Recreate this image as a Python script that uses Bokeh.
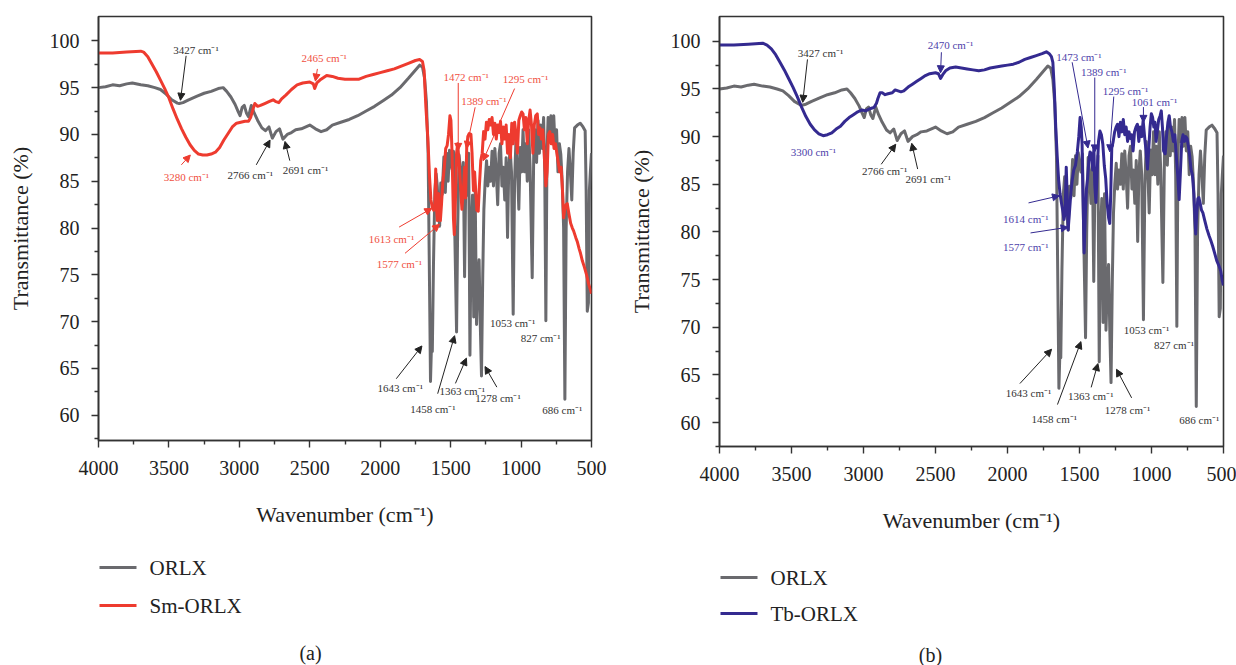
from bokeh.plotting import figure
from bokeh.models import Arrow, NormalHead, Label, Range1d, FixedTicker, ColumnDataSource
from bokeh.layouts import row, column
from bokeh.embed import file_html
from bokeh.resources import INLINE
from bokeh.core.properties import value

FONT = "Liberation Serif"
GRAY = "#6a6a6e"
RED = "#ee3b2f"
BLUE = "#342a90"
RED_TXT = "#f0503f"
BLUE_TXT = "#4d42aa"
BLK_TXT = "#333333"

# ---------------- data (wavenumber cm-1, transmittance %) ----------------
ORLX = [
    (4000, 95.0), (3950, 95.1), (3900, 95.3), (3850, 95.2), (3800, 95.4), (3760, 95.5), (3700, 95.3),
    (3650, 95.2), (3600, 95.0), (3560, 94.8), (3520, 94.3), (3480, 93.7), (3440, 93.35), (3427, 93.3),
    (3400, 93.4), (3360, 93.7), (3300, 94.1), (3250, 94.4), (3200, 94.6), (3150, 94.9), (3115, 95.0),
    (3090, 94.6), (3060, 94.0), (3030, 93.2), (3010, 92.5), (2995, 92.0), (2980, 92.9), (2965, 93.1),
    (2950, 92.3), (2935, 91.9), (2915, 93.1), (2895, 92.3), (2870, 91.5), (2840, 90.7), (2815, 90.4),
    (2790, 90.8), (2766, 89.6), (2740, 90.3), (2715, 90.6), (2691, 89.5), (2660, 90.0), (2630, 90.2),
    (2600, 90.5), (2560, 90.6), (2500, 91.0), (2460, 90.6), (2420, 90.3), (2380, 90.5), (2340, 91.0),
    (2280, 91.3), (2220, 91.6), (2160, 92.0), (2100, 92.5), (2040, 93.0), (1980, 93.6), (1920, 94.2),
    (1860, 95.0), (1800, 96.0), (1760, 96.7), (1720, 97.4), (1700, 97.2), (1685, 96.0), (1672, 93.5),
    (1660, 88.0), (1650, 74.0), (1643, 63.6), (1636, 67.5), (1630, 66.8), (1622, 76.0), (1612, 84.0),
    (1603, 85.8), (1595, 84.5), (1586, 81.5), (1578, 80.2), (1570, 84.8), (1560, 83.6), (1548, 87.6),
    (1538, 83.8), (1528, 88.0), (1518, 85.0), (1508, 88.3), (1500, 87.0), (1490, 86.3), (1480, 88.2),
    (1470, 79.0), (1458, 68.9), (1450, 80.0), (1440, 87.8), (1432, 86.5), (1420, 83.0), (1410, 87.0),
    (1401, 74.8), (1392, 86.0), (1382, 83.5), (1372, 88.0), (1363, 66.4), (1354, 80.0), (1345, 83.5),
    (1336, 70.5), (1326, 84.0), (1316, 69.7), (1306, 75.0), (1298, 76.6), (1290, 70.0), (1281, 64.2),
    (1272, 75.0), (1264, 82.0), (1255, 85.0), (1245, 87.2), (1236, 84.5), (1226, 86.5), (1216, 85.0),
    (1206, 88.2), (1196, 84.5), (1186, 88.5), (1176, 86.0), (1166, 82.5), (1156, 88.0), (1146, 89.0),
    (1136, 84.5), (1126, 86.5), (1116, 83.0), (1106, 87.5), (1096, 79.0), (1088, 86.0), (1078, 88.5),
    (1068, 86.0), (1056, 70.8), (1046, 85.0), (1036, 89.5), (1026, 86.5), (1016, 82.0), (1006, 88.6),
    (996, 86.0), (986, 90.5), (976, 86.0), (966, 89.0), (956, 85.0), (946, 90.5), (936, 86.5),
    (921, 74.7), (910, 88.0), (900, 90.5), (890, 87.0), (880, 91.5), (870, 88.0), (860, 91.0),
    (850, 88.5), (840, 91.8), (832, 86.0), (824, 70.1), (816, 88.0), (808, 91.8), (798, 89.5),
    (788, 92.0), (778, 89.0), (768, 92.0), (758, 88.5), (748, 90.5), (738, 86.0), (728, 89.0),
    (718, 87.9), (708, 85.0), (698, 80.0), (689, 61.7), (680, 80.0), (670, 86.0), (660, 88.5),
    (650, 86.0), (640, 83.0), (630, 88.0), (620, 90.7), (600, 91.0), (580, 91.2), (560, 90.8),
    (545, 90.4), (538, 84.0), (530, 71.1), (522, 72.0), (515, 84.0), (508, 86.0), (500, 88.0),
]

SM_ORLX = [
    (4000, 98.7), (3900, 98.7), (3800, 98.8), (3700, 98.9), (3680, 98.8), (3650, 98.3), (3620, 97.5),
    (3590, 96.7), (3560, 95.8), (3530, 94.9), (3500, 93.9), (3470, 92.7), (3440, 91.6), (3410, 90.6),
    (3380, 89.7), (3350, 88.9), (3320, 88.3), (3290, 87.9), (3260, 87.8), (3230, 87.8), (3200, 87.9),
    (3170, 88.1), (3140, 88.6), (3110, 89.4), (3080, 90.1), (3050, 90.8), (3020, 91.2), (2990, 91.3),
    (2960, 91.4), (2935, 91.4), (2920, 91.8), (2905, 92.6), (2890, 93.3), (2870, 93.0), (2850, 93.1),
    (2820, 93.3), (2790, 93.5), (2760, 93.7), (2740, 93.5), (2720, 93.4), (2700, 93.8), (2670, 94.2),
    (2630, 94.8), (2590, 95.3), (2550, 95.5), (2500, 95.6), (2475, 95.4), (2465, 94.9), (2450, 95.5),
    (2420, 95.9), (2380, 96.3), (2340, 96.2), (2300, 96.0), (2250, 95.9), (2200, 95.9), (2150, 95.9),
    (2100, 96.2), (2050, 96.4), (2000, 96.6), (1950, 96.8), (1900, 97.0), (1850, 97.3), (1800, 97.6),
    (1750, 97.9), (1720, 98.0), (1700, 97.8), (1688, 96.8), (1676, 93.0), (1662, 89.6), (1650, 85.5),
    (1640, 83.0), (1630, 82.2), (1620, 81.9), (1612, 82.5), (1606, 86.3), (1600, 82.0), (1594, 80.8),
    (1586, 83.7), (1579, 81.5), (1573, 80.8), (1565, 82.5), (1556, 84.8), (1545, 86.5), (1535, 88.5),
    (1525, 88.8), (1515, 90.0), (1505, 92.0), (1498, 91.5), (1490, 88.0), (1480, 81.0), (1474, 79.3),
    (1466, 83.0), (1458, 88.0), (1450, 89.0), (1440, 87.0), (1430, 84.5), (1420, 82.0), (1410, 84.0),
    (1400, 86.5), (1394, 83.2), (1386, 88.5), (1378, 89.8), (1368, 90.1), (1356, 90.0), (1348, 88.0),
    (1338, 84.0), (1330, 86.0), (1322, 84.0), (1314, 81.9), (1304, 81.8), (1296, 84.5), (1286, 87.2),
    (1276, 88.0), (1266, 90.3), (1256, 89.5), (1246, 91.3), (1236, 90.5), (1226, 91.6), (1216, 91.0),
    (1206, 91.8), (1196, 90.0), (1186, 91.2), (1176, 89.5), (1166, 91.0), (1156, 90.2), (1146, 91.4),
    (1136, 89.0), (1126, 90.8), (1116, 89.5), (1106, 91.0), (1096, 88.0), (1086, 90.0), (1076, 87.5),
    (1066, 91.2), (1056, 89.0), (1046, 91.3), (1036, 90.0), (1026, 88.0), (1016, 91.5), (1006, 92.0),
    (996, 92.4), (986, 92.2), (976, 90.5), (966, 91.8), (956, 89.0), (946, 91.5), (936, 92.6),
    (926, 91.0), (916, 88.0), (906, 91.0), (896, 92.0), (885, 92.2), (876, 90.0), (866, 90.7),
    (856, 89.5), (846, 90.5), (836, 88.0), (824, 84.5), (815, 86.0), (806, 90.0), (796, 90.3),
    (786, 89.0), (776, 90.0), (766, 88.5), (756, 89.0), (746, 88.0), (736, 87.0), (726, 86.0),
    (716, 86.5), (706, 84.0), (698, 81.1), (690, 82.0), (680, 82.5), (672, 82.6), (660, 81.5),
    (648, 80.5), (636, 80.0), (627, 79.7), (612, 79.0), (600, 78.5), (588, 77.8), (578, 77.3),
    (565, 76.5), (550, 75.8), (535, 75.0), (520, 74.0), (510, 73.5), (500, 73.0),
]

TB_ORLX = [
    (4000, 99.6), (3900, 99.6), (3800, 99.7), (3700, 99.8), (3670, 99.6), (3640, 99.2), (3610, 98.6),
    (3580, 97.8), (3550, 97.0), (3520, 96.1), (3490, 95.2), (3460, 94.2), (3430, 93.1), (3400, 92.1),
    (3370, 91.3), (3340, 90.7), (3310, 90.3), (3280, 90.1), (3250, 90.2), (3220, 90.4), (3190, 90.8),
    (3160, 91.1), (3130, 91.6), (3100, 92.0), (3070, 92.3), (3040, 92.6), (3010, 92.8), (2985, 92.7),
    (2960, 92.9), (2940, 93.0), (2925, 93.1), (2910, 93.5), (2900, 94.0), (2885, 94.6), (2870, 94.6),
    (2850, 94.4), (2830, 94.5), (2800, 94.6), (2780, 94.9), (2760, 94.8), (2740, 94.7), (2720, 94.8),
    (2690, 95.2), (2660, 95.5), (2630, 95.8), (2600, 96.1), (2570, 96.4), (2540, 96.6), (2500, 96.7),
    (2480, 96.6), (2465, 96.1), (2450, 96.5), (2430, 96.9), (2400, 97.2), (2360, 97.3), (2320, 97.2),
    (2280, 97.1), (2240, 97.0), (2200, 96.9), (2160, 97.0), (2120, 97.2), (2080, 97.3), (2040, 97.4),
    (2000, 97.5), (1960, 97.6), (1920, 97.8), (1880, 98.1), (1840, 98.3), (1800, 98.5), (1760, 98.7),
    (1730, 98.9), (1710, 98.7), (1695, 98.4), (1685, 97.8), (1675, 95.0), (1665, 91.0), (1655, 88.0),
    (1645, 85.5), (1635, 84.0), (1625, 83.0), (1617, 82.3), (1608, 81.3), (1600, 82.0), (1592, 86.8),
    (1585, 83.5), (1579, 80.2), (1570, 82.0), (1560, 84.1), (1550, 85.5), (1540, 86.5), (1528, 87.0),
    (1515, 88.4), (1505, 90.0), (1496, 92.0), (1488, 91.0), (1482, 89.2), (1476, 84.0), (1468, 77.8),
    (1460, 81.5), (1452, 84.5), (1444, 85.6), (1435, 87.5), (1427, 88.4), (1418, 88.2), (1408, 86.5),
    (1400, 88.8), (1394, 85.0), (1386, 83.1), (1378, 86.0), (1368, 89.5), (1358, 90.6), (1348, 90.2),
    (1338, 89.2), (1328, 87.0), (1318, 85.6), (1308, 83.0), (1298, 81.5), (1290, 80.9), (1283, 84.0),
    (1276, 88.8), (1266, 89.5), (1256, 90.5), (1246, 91.0), (1236, 91.3), (1226, 90.0), (1216, 91.5),
    (1206, 90.5), (1196, 91.8), (1186, 90.2), (1176, 91.0), (1166, 89.5), (1156, 90.5), (1146, 89.8),
    (1138, 90.2), (1128, 88.5), (1118, 90.5), (1108, 91.0), (1098, 91.3), (1088, 89.5), (1078, 91.0),
    (1068, 90.0), (1058, 91.7), (1048, 90.0), (1038, 88.5), (1028, 86.6), (1018, 89.0), (1010, 91.0),
    (1001, 92.4), (992, 92.0), (984, 91.0), (976, 91.5), (968, 89.5), (960, 90.5), (950, 91.8),
    (940, 92.2), (932, 92.7), (924, 91.0), (916, 88.5), (905, 88.2), (896, 90.0), (886, 91.5),
    (877, 92.2), (868, 91.0), (858, 90.5), (848, 89.5), (838, 90.2), (828, 88.0), (818, 86.0),
    (808, 83.4), (800, 86.0), (790, 89.5), (781, 90.2), (771, 89.5), (762, 90.0), (753, 89.8),
    (744, 89.0), (735, 88.0), (726, 86.6), (716, 86.0), (706, 84.0), (700, 82.0), (693, 79.8),
    (686, 82.0), (678, 83.5), (671, 83.6), (662, 83.0), (653, 82.3), (643, 82.0), (630, 81.2),
    (615, 80.3), (600, 79.6), (588, 79.1), (575, 78.5), (560, 77.7), (547, 77.0), (533, 76.5),
    (519, 75.9), (510, 75.0), (500, 74.4),
]

X_TICKS = [4000, 3500, 3000, 2500, 2000, 1500, 1000, 500]
Y_TICKS = [60, 65, 70, 75, 80, 85, 90, 95, 100]

# ---------------- peak annotations ----------------
ANN_A_TEXT = ["3427", "3280", "2766", "2691", "2465", "1472", "1389", "1295", "1613", "1577",
              "1643", "1458", "1363", "1278", "1053", "827", "686"]
ANN_A_X = [3308, 3376, 2922, 2530, 2398, 1390, 1264, 968, 1920, 1864, 1858, 1626, 1418, 1164, 1060, 861, 707]
ANN_A_Y = [99.0, 85.5, 85.7, 86.2, 98.2, 96.1, 93.6, 95.9, 78.8, 76.2, 62.9, 60.7, 62.6, 61.8, 69.9, 68.3, 60.55]
ANN_A_KIND = ["k", "c", "k", "k", "c", "c", "c", "c", "c", "c", "k", "k", "k", "k", "k", "k", "k"]
ARR_A_X0 = [3378, 3412, 2880, 2642, 2446, 1446, 1326, 1046, 1866, 1824, 1886, 1592, 1466, 1172]
ARR_A_Y0 = [98.4, 86.75, 86.75, 87.2, 97.0, 95.5, 92.9, 94.9, 80.1, 77.3, 63.9, 62.3, 63.4, 63.0]
ARR_A_X1 = [3418, 3348, 2782, 2676, 2460, 1446, 1388, 1270, 1634, 1578, 1704, 1472, 1388, 1256]
ARR_A_Y1 = [93.65, 87.8, 89.4, 89.25, 95.7, 88.3, 88.5, 87.2, 82.1, 80.4, 67.4, 68.5, 66.1, 65.2]
ARR_A_KIND = ["k", "c", "k", "k", "c", "c", "c", "c", "c", "c", "k", "k", "k", "k"]

ANN_B_TEXT = ["3427", "3300", "2766", "2691", "2470", "1473", "1389", "1295", "1061", "1614",
              "1577", "1643", "1458", "1363", "1278", "1053", "827", "686"]
ANN_B_X = [3298, 3348, 2853, 2550, 2396, 1504, 1331, 1180, 979, 1873, 1873, 1854, 1675, 1422, 1166, 1034, 844, 668]
ANN_B_Y = [98.8, 88.4, 86.4, 85.6, 99.6, 98.3, 96.8, 94.8, 93.6, 81.4, 78.4, 63.1, 60.4, 62.8, 61.3, 69.7, 68.15, 60.25]
ANN_B_KIND = ["k", "c", "k", "k", "c", "c", "c", "c", "c", "c", "c", "k", "k", "k", "k", "k", "k", "k"]
ARR_B_X0 = [3389, 2877, 2624, 2459, 1551, 1394, 1262, 1056, 1854, 1840, 1914, 1653, 1419, 1138]
ARR_B_Y0 = [98.1, 87.1, 86.6, 98.85, 97.8, 96.2, 94.2, 93.1, 83.05, 79.9, 64.1, 61.9, 63.7, 62.6]
ARR_B_X1 = [3422, 2776, 2665, 2465, 1441, 1394, 1290, 1056, 1639, 1579, 1694, 1490, 1372, 1243]
ARR_B_Y1 = [93.6, 89.2, 89.3, 96.7, 88.8, 88.4, 88.4, 91.5, 83.8, 80.5, 67.7, 68.5, 66.2, 65.6]
ARR_B_KIND = ["k", "k", "k", "c", "c", "c", "c", "c", "c", "c", "k", "k", "k", "k"]

LEGEND_A = ["ORLX", "Sm-ORLX"]
LEGEND_B = ["ORLX", "Tb-ORLX"]


def style_axes(p):
    p.xgrid.visible = False
    p.ygrid.visible = False
    p.outline_line_color = "#333333"
    p.outline_line_width = 1.6
    p.outline_line_alpha = 1
    for ax in p.axis:
        ax.axis_line_color = "#333333"
        ax.axis_line_width = 1.6
        ax.major_tick_line_color = "#333333"
        ax.minor_tick_line_color = "#333333"
        ax.major_tick_line_width = 1.4
        ax.minor_tick_line_width = 1.4
        ax.major_tick_in = 0
        ax.major_tick_out = 7
        ax.minor_tick_in = 0
        ax.minor_tick_out = 4
        ax.major_label_text_font = FONT
        ax.major_label_text_font_size = "20px"
        ax.major_label_text_color = "#222222"
        ax.axis_label_text_font = FONT
        ax.axis_label_text_font_size = "22px"
        ax.axis_label_text_font_style = "normal"
        ax.axis_label_text_color = "#222222"
    p.xaxis.ticker = FixedTicker(ticks=X_TICKS, minor_ticks=[t - 250 for t in X_TICKS[:-1]])
    p.yaxis.ticker = FixedTicker(ticks=Y_TICKS, minor_ticks=[t + 2.5 for t in Y_TICKS[:-1]] + [57.5])
    p.xaxis.major_label_standoff = 13
    p.yaxis.major_label_standoff = 12
    p.xaxis.axis_label_standoff = 24
    p.yaxis.axis_label_standoff = 14
    p.xaxis.axis_label = "Wavenumber (cm\u207b\u00b9)"
    p.yaxis.axis_label = "Transmittance (%)"


def make_main(fig_w, fig_h, left, frame_w, frame_h, ylo, yhi, sample, color, txt_color,
              ann, arr):
    p = figure(width=fig_w, height=fig_h, x_range=Range1d(4000, 500), y_range=Range1d(ylo, yhi),
               output_backend="svg", toolbar_location=None,
               min_border_left=left, min_border_right=fig_w - left - frame_w,
               min_border_top=16, min_border_bottom=fig_h - 16 - frame_h)
    style_axes(p)
    wn0, t0 = zip(*ORLX)
    wn1, t1 = zip(*sample)
    p.line(list(wn0), list(t0), line_color=GRAY, line_width=3, line_join="round")
    p.line(list(wn1), list(t1), line_color=color, line_width=3, line_join="round")

    texts, xs, ys, kinds = ann
    src = ColumnDataSource(dict(
        x=xs, y=ys,
        t=[s + " cm\u207b\u00b9" for s in texts],
        c=[BLK_TXT if k == "k" else txt_color for k in kinds]))
    p.text(x="x", y="y", text="t", source=src, text_color="c", text_font=value(FONT),
           text_font_size="11px", text_align="center", text_baseline="middle")

    x0s, y0s, x1s, y1s, akinds = arr
    for x0, y0, x1, y1, k in zip(x0s, y0s, x1s, y1s, akinds):
        c = "#222222" if k == "k" else color
        p.add_layout(Arrow(end=NormalHead(size=7, fill_color=c, line_color=c, line_width=1),
                           x_start=x0, y_start=y0, x_end=x1, y_end=y1,
                           line_color=c, line_width=1))
    return p


def make_foot(fig_w, fig_h, fx0, fx1, names, colors, key_x, key_y, caption, cap_x, cap_y):
    # legend keys + caption; the strip's frame is aligned with the plot frame above
    # (fx0..fx1 in panel pixels), so the x range is expressed in panel pixels.
    f = figure(width=fig_w, height=fig_h, x_range=Range1d(fx0, fx1), y_range=Range1d(0, fig_h),
               output_backend="svg", toolbar_location=None, min_border=0,
               x_axis_type=None, y_axis_type=None)
    f.xgrid.visible = False
    f.ygrid.visible = False
    f.outline_line_color = None
    n = len(names)
    f.segment(x0=[key_x] * n, y0=key_y, x1=[key_x + 37] * n, y1=key_y, line_color=colors, line_width=3)
    f.text(x=[key_x + 50] * n, y=key_y, text=names, text_font=value(FONT), text_font_size="21px",
           text_align="left", text_baseline="middle", text_color="#222222")
    f.add_layout(Label(x=cap_x, y=cap_y, text=caption, text_font=FONT, text_font_size="20px",
                       text_align="center", text_baseline="middle", text_color="#222222"))
    return f


pa = make_main(620, 535, 98, 493, 424, 57.3, 102.6, SM_ORLX, RED, RED_TXT,
               (ANN_A_TEXT, ANN_A_X, ANN_A_Y, ANN_A_KIND),
               (ARR_A_X0, ARR_A_Y0, ARR_A_X1, ARR_A_Y1, ARR_A_KIND))
pb = make_main(616, 535, 99, 504, 432, 57.5, 102.6, TB_ORLX, BLUE, BLUE_TXT,
               (ANN_B_TEXT, ANN_B_X, ANN_B_Y, ANN_B_KIND),
               (ARR_B_X0, ARR_B_Y0, ARR_B_X1, ARR_B_Y1, ARR_B_KIND))
fa = make_foot(620, 130, 98, 591, LEGEND_A, [GRAY, RED], 99, [98, 60], "(a)", 310, 13)
fb = make_foot(616, 130, 99, 603, LEGEND_B, [GRAY, BLUE], 100, [88, 52], "(b)", 310, 11)

layout = row(column(pa, fa), column(pb, fb))
open("out.html", "w").write(file_html(layout, INLINE))
